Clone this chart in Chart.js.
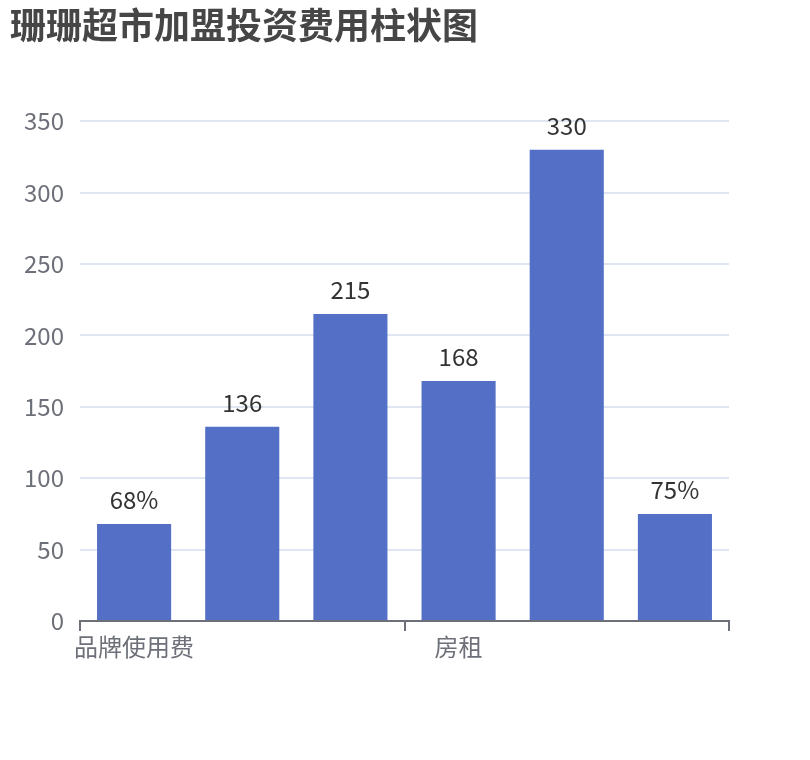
<!DOCTYPE html>
<html>
<head>
<meta charset="utf-8">
<script src="https://cdn.jsdelivr.net/npm/chart.js@4/dist/chart.umd.min.js"></script>
<style>
    html, body { margin: 0; padding: 0; background: #fff; }
    #ChartWrap { width: 810px; height: 760px; position: relative; }
</style>
</head>
<body>
<div id="ChartWrap"><canvas id="FeeChart"></canvas></div>
<script>
const ChartTitle = '珊珊超市加盟投资费用柱状图';
// only two category names are readable on the axis, the rest are hidden
const Categories = ['品牌使用费', '', '', '房租', '', ''];
const FeeValues = [68, 136, 215, 168, 330, 75];
const BarLabels = ['68%', '136', '215', '168', '330', '75%'];
const YMax = 350;
const YStep = 50;

const Colors = {
    Bar: '#5470c6',
    Axis: '#6e7079',
    Grid: '#e0e6f1',
    Title: '#464646',
    Label: '#333333',
}
const FontFamily = '"Noto Sans CJK SC", "Noto Sans", sans-serif';

// draws the value text above every bar
const barValueLabels = {
    id: 'barValueLabels',
    afterDatasetsDraw(chart) {
        let ctx = chart.ctx;
        let meta = chart.getDatasetMeta(0);
        ctx.save();
        ctx.font = '24px ' + FontFamily;
        ctx.fillStyle = Colors.Label;
        ctx.textAlign = 'center';
        ctx.textBaseline = 'alphabetic';
        meta.data.forEach((bar, i) => {
            ctx.fillText(BarLabels[i], bar.x, bar.y - 15);
        });
        ctx.restore();
    }
};

new Chart(document.getElementById('FeeChart'), {
    type: 'bar',
    data: {
        labels: Categories,
        datasets: [{
            data: FeeValues,
            backgroundColor: Colors.Bar,
            borderWidth: 0,
            categoryPercentage: 1,
            barPercentage: 0.685,
        }]
    },
    options: {
        responsive: true,
        maintainAspectRatio: false,
        animation: false,
        devicePixelRatio: 1,
        layout: {
            padding: { left: 10, right: 81, top: 0, bottom: 0 }
        },
        plugins: {
            legend: { display: false },
            tooltip: { enabled: false },
            title: {
                display: true,
                text: ChartTitle,
                align: 'start',
                color: Colors.Title,
                font: { family: FontFamily, size: 36, weight: 'bold', lineHeight: 1.2 },
                padding: { top: 4, bottom: 74 }
            }
        },
        scales: {
            x: {
                offset: true,
                afterFit: scale => { scale.height = 139; },
                border: { display: true, color: Colors.Axis, width: 2 },
                grid: {
                    display: true,
                    offset: true,
                    drawOnChartArea: false,
                    drawTicks: true,
                    tickLength: 10,
                    lineWidth: 2,
                    // tick marks only on every third boundary
                    color: ctx => (ctx.index === undefined || ctx.index % 3 === 0) ? Colors.Axis : 'rgba(0,0,0,0)'
                },
                ticks: {
                    autoSkip: false,
                    maxRotation: 0,
                    minRotation: 0,
                    padding: 1,
                    color: Colors.Axis,
                    font: { family: FontFamily, size: 24 }
                }
            },
            y: {
                min: 0,
                max: YMax,
                afterFit: scale => { scale.width = 70; },
                border: { display: false },
                grid: {
                    color: Colors.Grid,
                    lineWidth: 2,
                    drawTicks: false
                },
                ticks: {
                    stepSize: YStep,
                    padding: 16,
                    color: Colors.Axis,
                    font: { family: FontFamily, size: 24 }
                }
            }
        }
    },
    plugins: [barValueLabels]
});
</script>
</body>
</html>
